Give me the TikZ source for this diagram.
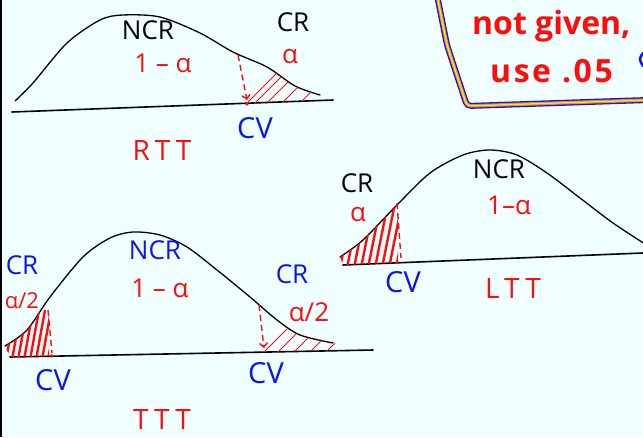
\documentclass[tikz,border=0pt]{standalone}
\usepackage{fontspec}
\setmainfont{Open Sans}
\usepackage{xcolor}
\usetikzlibrary{arrows.meta}
\definecolor{hred}{HTML}{FF0D0D}
\definecolor{hblue}{HTML}{0A14F0}
\definecolor{paper}{HTML}{F0FFFF}
\definecolor{frameorange}{HTML}{F08A1E}
\definecolor{frameyellow}{HTML}{FFE640}
\def\rttcurve{(15,101) (33,83) (67,43) (100,20) (123,15) (160,17) (200,33) (233,52) (267,67) (295,86) (320,95)}
\def\lttcurve{(340,257) (363,240) (397,205) (430,173) (463,155) (490,150) (517,155) (547,173) (580,198) (613,223) (645,244)}
\def\tttcurve{(5,346) (27,330) (50,297) (83,257) (110,238) (133,232) (160,235) (187,247) (217,270) (250,297) (277,320) (300,335) (333,343)}
\begin{document}
\begin{tikzpicture}[x=1pt,y=-1pt,
  lbl/.style={inner sep=0pt,font=\fontsize{26}{26}\selectfont},
  cvlbl/.style={inner sep=0pt,hblue,font=\fontsize{29}{29}\selectfont},
  testname/.style={inner sep=0pt,hred,font=\fontsize{28}{28}\selectfont\addfontfeatures{LetterSpace=18}},
  bigtext/.style={inner sep=0pt,hred,anchor=base west,font=\fontsize{32}{32}\selectfont\bfseries},
  curve/.style={line width=1.3pt,line cap=round},
  axis/.style={line width=1.6pt,line cap=round},
  cvline/.style={hred,line width=1.4pt,dash pattern=on 6pt off 4pt},
  hatchthin/.style={hred,line width=0.9pt},
  hatchthick/.style={hred,line width=2.4pt}]
\fill[paper] (0,0) rectangle (643,437);
\useasboundingbox (0,0) rectangle (643,437);
\draw[line width=2.5pt] (1,0)--(1,437);

% right tailed test
\draw[curve] plot[smooth] coordinates {\rttcurve};
\draw[axis] (12,112)--(333,100);
\begin{scope}
\clip plot[smooth] coordinates {\rttcurve} -- (333,100) -- (12,112) -- cycle;
\clip (248,0) rectangle (340,120);
\foreach \x in {246,254,266,281,299} \draw[hatchthin] (\x,104)--++(36,-36);
\end{scope}
\draw[cvline,-{Straight Barb[length=4pt]}] (238,55)--(247,100);
\fill[hred] (247,104) circle (1.8);
\node[lbl] (rncr) at (148,30) {NCR};
\node[lbl,hred] (rconf) at (163,63) {1 – α};
\node[lbl] (rcr) at (293,22) {CR};
\node[lbl,hred] (ralpha) at (290,57) {α};
\node[cvlbl] (rcv) at (255,128) {CV};
\node[testname] (rtt) at (162,151) {RTT};

% left tailed test
\draw[curve] plot[smooth] coordinates {\lttcurve};
\draw[axis] (343,265)--(643,253);
\begin{scope}
\clip plot[smooth] coordinates {\lttcurve} -- (643,253) -- (343,265) -- cycle;
\clip (330,150) rectangle (398,270);
\foreach \x in {340,347,...,396} \draw[hatchthick] (\x,268)--++(12,-60);
\end{scope}
\draw[cvline] (397,203)--(401,258);
\node[lbl] (lcr) at (357,183) {CR};
\node[lbl,hred] (lalpha) at (358,215) {α};
\node[lbl] (lncr) at (499,169) {NCR};
\node[lbl,hred] (lconf) at (509,205) {1–α};
\node[cvlbl] (lcv) at (403,282) {CV};
\node[testname] (ltt) at (513,288) {LTT};

% two tailed test
\draw[curve] plot[smooth] coordinates {\tttcurve};
\draw[axis] (10,357)--(373,350);
\begin{scope}
\clip plot[smooth] coordinates {\tttcurve} -- (373,350) -- (10,357) -- cycle;
\clip (0,280) rectangle (49,360);
\foreach \x in {6,12,...,48} \draw[hatchthick] (\x,360)--++(9,-50);
\end{scope}
\begin{scope}
\clip plot[smooth] coordinates {\tttcurve} -- (373,350) -- (10,357) -- cycle;
\clip (264,280) rectangle (380,360);
\foreach \x in {262,276,292,308,324} \draw[hatchthin] (\x,354)--++(30,-30);
\end{scope}
\draw[cvline] (48,310)--(52,353);
\fill[hred] (52,356) circle (1.8);
\draw[cvline,-{Straight Barb[length=4pt]}] (259,305)--(264,348);
\node[lbl,hblue] (tcrl) at (22,265) {CR};
\node[lbl,hred,font=\fontsize{22}{22}\selectfont] (talphal) at (22,301) {α/2};
\node[lbl,hblue] (tncr) at (155,250) {NCR};
\node[lbl,hred] (tconf) at (160,288) {1 – α};
\node[lbl,hblue] (tcrr) at (292,274) {CR};
\node[lbl,hred] (talphar) at (309,312) {α/2};
\node[cvlbl] (tcvl) at (53,380) {CV};
\node[cvlbl] (tcvr) at (266,373) {CV};
\node[testname] (ttt) at (162,419) {TTT};

% note box
\draw[hblue,line width=6pt,rounded corners=4pt] (437,-5)--(447,45)--(467,106)--(648,100);
\draw[frameorange,line width=3.4pt,rounded corners=4pt] (437,-5)--(447,45)--(467,106)--(648,100);
\draw[frameyellow,line width=1.2pt,rounded corners=4pt] (437,-5)--(447,45)--(467,106)--(648,100);
\node[bigtext] (notgiven) at (472,34) {not given,};
\node[bigtext,font=\fontsize{32}{32}\selectfont\bfseries\addfontfeatures{LetterSpace=8}] (use05) at (490,82) {use .05};
\draw[hblue,line width=2.5pt,line cap=round] (643,53) .. controls (639,59) .. (643,66);
\end{tikzpicture}
\end{document}
